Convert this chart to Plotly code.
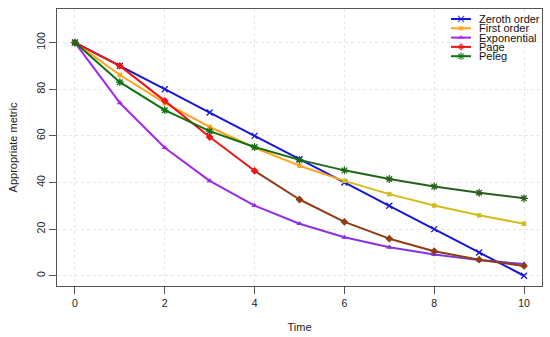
import plotly.graph_objects as go

time = [0, 1, 2, 3, 4, 5, 6, 7, 8, 9, 10]
zeroth = [100, 90, 80, 70, 60, 50, 40, 30, 20, 10, 0]
first = [100, 86.1, 74.1, 63.8, 54.9, 47.2, 40.7, 35.0, 30.1, 25.9, 22.3]
expo = [100, 74.1, 54.9, 40.7, 30.1, 22.3, 16.5, 12.2, 9.1, 6.7, 5.0]
page = [100, 90, 75, 59.5, 45, 32.7, 23.1, 15.9, 10.5, 6.9, 4.2]
peleg = [100, 83, 71, 62, 55.2, 49.7, 45.2, 41.5, 38.3, 35.6, 33.2]
names = ["Zeroth order", "First order", "Exponential", "Page", "Peleg"]
x_ticks = [0, 2, 4, 6, 8, 10]
y_ticks = [0, 20, 40, 60, 80, 100]

FONT = "Liberation Sans, Arial, sans-serif"


def hex2rgb(h):
    h = h.lstrip("#")
    return [int(h[i:i + 2], 16) for i in (0, 2, 4)]


def blend(c1, c2, f):
    a, b = hex2rgb(c1), hex2rgb(c2)
    r = [round(a[i] + (b[i] - a[i]) * f) for i in range(3)]
    return "rgb(%d,%d,%d)" % tuple(r)


def ramp(c1, c2, start, end):
    out = []
    for t in time:
        if t <= start:
            f = 0
        elif t >= end:
            f = 1
        else:
            f = (t - start) / (end - start)
        out.append(blend(c1, c2, f))
    return out


styles = [
    dict(vals=zeroth, pts=ramp("#1616d4", "#1616d4", 0, 10), sym="x-thin", size=6),
    dict(vals=first, pts=ramp("#ffa31a", "#d4bc1c", 5, 6), sym="square", size=4.5),
    dict(vals=expo, pts=ramp("#a526ec", "#6e3ade", 1, 10), sym="triangle-up", size=5.5),
    dict(vals=page, pts=ramp("#f01414", "#8e3c12", 4, 4.01), sym="diamond", size=6),
    dict(vals=peleg, pts=ramp("#0e720e", "#2e5a1e", 2, 10), sym="asterisk", size=6.5),
]
legend_colors = ["#1616d4", "#ffa31a", "#a526ec", "#f01414", "#0e720e"]

fig = go.Figure()

for k, st in enumerate(styles):
    v = st["vals"]
    pts = st["pts"]
    for i in range(len(time) - 1):
        segc = pts[i + 1] if (k == 3 and i >= 4) else pts[i]
        fig.add_trace(go.Scatter(
            x=time[i:i + 2], y=v[i:i + 2], mode="lines",
            line=dict(color=segc, width=2), showlegend=False, hoverinfo="skip"))
    line_sym = st["sym"] in ("x-thin", "asterisk")
    fig.add_trace(go.Scatter(
        x=time, y=v, mode="markers", showlegend=False,
        marker=dict(symbol=st["sym"], size=st["size"], color=pts,
                    line=dict(color=pts, width=1.3 if line_sym else 0))))


def px2paper_x(px):
    return (px - 57) / 485.0


def px2paper_y(py):
    return (286 - py) / 277.0


leg_y = [19, 28.3, 37.6, 46.9, 56.2]
for i, nm in enumerate(names):
    yy = px2paper_y(leg_y[i])
    fig.add_shape(type="line", xref="paper", yref="paper",
                  x0=px2paper_x(451), x1=px2paper_x(471), y0=yy, y1=yy,
                  line=dict(color=legend_colors[i], width=2))
    fig.add_annotation(x=px2paper_x(478), y=yy, xref="paper", yref="paper",
                       text=nm, showarrow=False, xanchor="left", yanchor="middle",
                       borderpad=0,
                       font=dict(family=FONT, size=11, color="#111"))

fig.add_trace(go.Scatter(
    x=[px2paper_x(461)] * 5, y=[px2paper_y(v) for v in leg_y],
    xaxis="x2", yaxis="y2", mode="markers", showlegend=False, hoverinfo="skip",
    marker=dict(symbol=[s["sym"] for s in styles], size=[s["size"] for s in styles],
                color=legend_colors,
                line=dict(color=legend_colors, width=[1.3, 0, 0, 0, 1.3]))))

axis_common = dict(
    showline=True, mirror=True, linecolor="#555", linewidth=1,
    ticks="outside", ticklen=7, tickcolor="#555", tickwidth=1,
    showgrid=True, gridcolor="#e6e6e6", griddash="dot", gridwidth=1,
    zeroline=False, automargin=False,
    tickfont=dict(family=FONT, size=10.5, color="#222"),
)

fig.update_layout(
    width=550, height=337,
    margin=dict(l=57, r=8, t=9, b=51),
    paper_bgcolor="white", plot_bgcolor="white",
    showlegend=False,
    xaxis=dict(range=[-0.4, 10.4], tickvals=x_ticks,
               title=dict(text="Time", font=dict(family=FONT, size=11, color="#222"), standoff=15),
               **axis_common),
    yaxis=dict(range=[-4.4, 114.4], tickvals=y_ticks, tickangle=-90,
               title=dict(text="Appropriate metric", font=dict(family=FONT, size=11, color="#222"), standoff=14),
               **axis_common),
    xaxis2=dict(overlaying="x", range=[0, 1], visible=False, fixedrange=True),
    yaxis2=dict(overlaying="y", range=[0, 1], visible=False, fixedrange=True),
)

fig.write_html("out.html", config={"displayModeBar": False},
               post_script="document.body.style.margin='0';document.body.style.padding='0';")
